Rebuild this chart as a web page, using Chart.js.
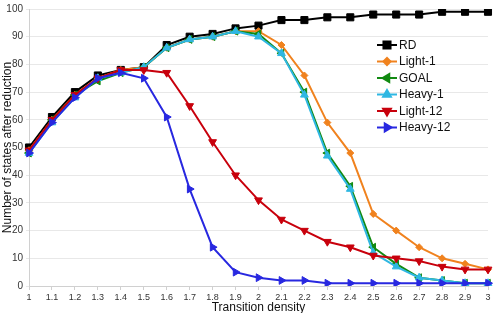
<!DOCTYPE html>
<html><head><meta charset="utf-8">
<script src="https://cdn.jsdelivr.net/npm/chart.js@4/dist/chart.umd.min.js"></script>
<style>html,body{margin:0;padding:0;background:#fff}#wrap{width:494px;height:313px;position:relative}</style>
</head><body><div id="wrap"><canvas id="c"></canvas></div>
<script>
const categories = ['1','1.1','1.2','1.3','1.4','1.5','1.6','1.7','1.8','1.9','2','2.1','2.2','2.3','2.4','2.5','2.6','2.7','2.8','2.9','3'];
const seriesNames = ['RD','Light-1','GOAL','Heavy-1','Light-12','Heavy-12'];
const rd      = [50,61,70,76,78,79,87,90,91,93,94,96,96,97,97,98,98,98,99,99,99];
const light1  = [49,60,69,75,78,79,86,89,90,92,92,87,76,59,48,26,20,14,10,8,6];
const goal    = [48,60,69,74,77,79,86,89,90,92,91,84,70,48,36,14,8,3,2,1,1];
const heavy1  = [48,59,68,75,77,79,86,89,90,92,90,84,69,47,35,12,7,3,2,1,1];
const light12 = [49,60,69,75,78,78,77,65,52,40,31,24,20,16,14,11,10,9,7,6,6];
const heavy12 = [48,59,68,75,77,75,61,35,14,5,3,2,2,1,1,1,1,1,1,1,1];
const yTicks = [0,10,20,30,40,50,60,70,80,90,100];

const styles = [
  {color:'#000000', pointStyle:'rect', rotation:0, radius:5},
  {color:'#f0821e', pointStyle:'rectRot', rotation:0, radius:3.5},
  {color:'#128a12', pointStyle:'triangle', rotation:-90, radius:4.5},
  {color:'#2fb7e2', pointStyle:'triangle', rotation:0, radius:4.5},
  {color:'#c8000c', pointStyle:'triangle', rotation:180, radius:4.5},
  {color:'#2828e0', pointStyle:'triangle', rotation:90, radius:4.5}
];
const values = [rd, light1, goal, heavy1, light12, heavy12];

const datasets = values.map((v,i)=>({
  label: seriesNames[i], data: v,
  borderColor: styles[i].color, backgroundColor: styles[i].color,
  borderWidth: 2, pointStyle: styles[i].pointStyle, rotation: styles[i].rotation,
  pointRadius: styles[i].radius, pointBorderWidth: 1, tension: 0, order: -i
}));

const legendPlugin = {
  id:'customLegend',
  afterDraw(chart){
    const ctx = chart.ctx;
    const x0 = 377, x1 = 397, tx = 399, y0 = 45, dy = 16.5;
    ctx.save();
    chart.data.datasets.forEach((ds,i)=>{
      const y = y0 + i*dy;
      ctx.strokeStyle = ds.borderColor; ctx.lineWidth = 2;
      ctx.beginPath(); ctx.moveTo(x0,y); ctx.lineTo(x1,y); ctx.stroke();
      ctx.fillStyle = ds.backgroundColor;
      Chart.helpers.drawPoint(ctx, {pointStyle: ds.pointStyle, rotation: ds.rotation, radius: ds.pointRadius, borderWidth: 1}, (x0+x1)/2, y);
      ctx.fillStyle = '#111';
      ctx.font = '12px "Liberation Sans", Arial, sans-serif';
      ctx.textBaseline = 'middle'; ctx.textAlign = 'left';
      ctx.fillText(ds.label, tx, y+0.5);
    });
    ctx.restore();
  }
};

new Chart(document.getElementById('c'), {
  type:'line',
  data:{labels: categories, datasets},
  options:{
    responsive:true, maintainAspectRatio:false, animation:false,
    layout:{padding:{top:3,right:4,left:0,bottom:0}},
    plugins:{legend:{display:false}, tooltip:{enabled:false}},
    scales:{
      x:{
        offset:false,
        grid:{display:true, drawOnChartArea:false, tickLength:4, color:'#d0d0d0'},
        border:{color:'#d0d0d0'},
        ticks:{font:{family:'"Liberation Sans", Arial, sans-serif', size:9}, color:'#333', padding:2, maxRotation:0, autoSkip:false},
        title:{display:true, text:'Transition density', font:{family:'"Liberation Sans", Arial, sans-serif', size:12}, color:'#111', padding:{top:0,bottom:-2}},
        afterFit(s){ s.height = 27; }
      },
      y:{
        min:0, max:100,
        afterBuildTicks(s){ s.ticks = yTicks.map(v=>({value:v})); },
        grid:{color:'#e8e8e8', tickLength:3, drawTicks:true},
        border:{color:'#d0d0d0'},
        ticks:{font:{family:'"Liberation Sans", Arial, sans-serif', size:10}, color:'#333', padding:3},
        title:{display:true, text:'Number of states after reduction', font:{family:'"Liberation Sans", Arial, sans-serif', size:12}, color:'#111', padding:{top:0,bottom:0}},
        afterFit(s){ s.width = 29; }
      }
    }
  },
  plugins:[legendPlugin]
});
</script></body></html>
